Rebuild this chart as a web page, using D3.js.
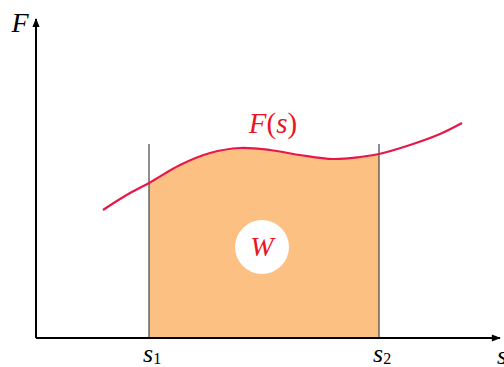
<!DOCTYPE html>
<html>
<head>
<meta charset="utf-8">
<script src="https://cdn.jsdelivr.net/npm/d3@7"></script>
<style>
  body { margin: 0; background: #fff; }
  text { font-family: "Liberation Serif", "Times New Roman", Times, serif; }
</style>
</head>
<body>
<svg id="chart"></svg>
<script>
const width = 504;
const height = 367;

// curve samples (s, F) in chart units
const sValues = [67, 89, 113, 144, 174, 204, 234, 264, 297, 324, 343, 374, 404, 426];
const fValues = [128, 142, 155, 173, 185, 190, 188, 183, 179, 181, 184, 193, 204, 215];
const bounds = [113, 343];
const boundLabels = ["1", "2"];

const svg = d3.select("#chart")
    .attr("width", width)
    .attr("height", height);

const x = d3.scaleLinear().domain([0, 460]).range([36, 496]);
const y = d3.scaleLinear().domain([0, 320]).range([338, 18]);

const points = sValues.map((s, i) => [s, fValues[i]]);

const defs = svg.append("defs");
defs.append("marker")
    .attr("id", "arrow")
    .attr("viewBox", "0 0 10 10")
    .attr("refX", 9)
    .attr("refY", 5)
    .attr("markerWidth", 10)
    .attr("markerHeight", 9)
    .attr("markerUnits", "userSpaceOnUse")
    .attr("orient", "auto")
    .append("path")
    .attr("d", "M0,1 L10,5 L0,9 Z")
    .attr("fill", "#000");

defs.append("clipPath")
    .attr("id", "band")
    .append("rect")
    .attr("x", x(bounds[0]))
    .attr("y", 0)
    .attr("width", x(bounds[1]) - x(bounds[0]))
    .attr("height", height);

const curve = d3.curveCatmullRom.alpha(0.5);

// shaded work area
svg.append("path")
    .datum(points)
    .attr("clip-path", "url(#band)")
    .attr("fill", "#fcc083")
    .attr("d", d3.area()
        .x(d => x(d[0]))
        .y0(y(0))
        .y1(d => y(d[1]))
        .curve(curve));

// vertical bound lines
svg.selectAll(".bound")
    .data(bounds)
    .enter()
    .append("line")
    .attr("class", "bound")
    .attr("x1", d => x(d))
    .attr("x2", d => x(d))
    .attr("y1", y(194))
    .attr("y2", y(0))
    .attr("stroke", "#444")
    .attr("stroke-width", 1.2);

// axes
svg.append("line")
    .attr("x1", x(0)).attr("y1", y(0))
    .attr("x2", x(464)).attr("y2", y(0))
    .attr("stroke", "#000").attr("stroke-width", 2)
    .attr("marker-end", "url(#arrow)");

svg.append("line")
    .attr("x1", x(0)).attr("y1", y(0))
    .attr("x2", x(0)).attr("y2", y(319))
    .attr("stroke", "#000").attr("stroke-width", 2)
    .attr("marker-end", "url(#arrow)");

// the F(s) curve
svg.append("path")
    .datum(points)
    .attr("fill", "none")
    .attr("stroke", "#e8174a")
    .attr("stroke-width", 2.2)
    .attr("d", d3.line()
        .x(d => x(d[0]))
        .y(d => y(d[1]))
        .curve(curve));

// W badge
const wx = x(226), wy = y(91);
svg.append("circle")
    .attr("cx", wx).attr("cy", wy).attr("r", 27)
    .attr("fill", "#fff");
svg.append("text")
    .attr("x", wx).attr("y", wy + 9)
    .attr("text-anchor", "middle")
    .attr("font-style", "italic")
    .attr("font-size", 28)
    .attr("fill", "#e8171f")
    .text("W");

// curve label
svg.append("text")
    .attr("x", 273).attr("y", 133)
    .attr("text-anchor", "middle")
    .attr("font-size", 29)
    .attr("fill", "#e8171f")
    .call(t => {
        t.append("tspan").attr("font-style", "italic").text("F");
        t.append("tspan").text("(");
        t.append("tspan").attr("font-style", "italic").text("s");
        t.append("tspan").text(")");
    });

// axis labels
svg.append("text")
    .attr("x", 20).attr("y", 32)
    .attr("text-anchor", "middle")
    .attr("font-style", "italic")
    .attr("font-size", 28)
    .text("F");

svg.append("text")
    .attr("x", 497).attr("y", 364)
    .attr("font-style", "italic")
    .attr("font-size", 26)
    .text("s");

svg.selectAll(".blabel")
    .data(bounds)
    .enter()
    .append("text")
    .attr("class", "blabel")
    .attr("x", d => x(d) - 6)
    .attr("y", 362)
    .attr("font-size", 26)
    .call(t => {
        t.append("tspan").attr("font-style", "italic").text("s");
        t.append("tspan")
            .attr("font-size", 16)
            .attr("dy", 2)
            .text((d, i) => boundLabels[i]);
    });
</script>
</body>
</html>
